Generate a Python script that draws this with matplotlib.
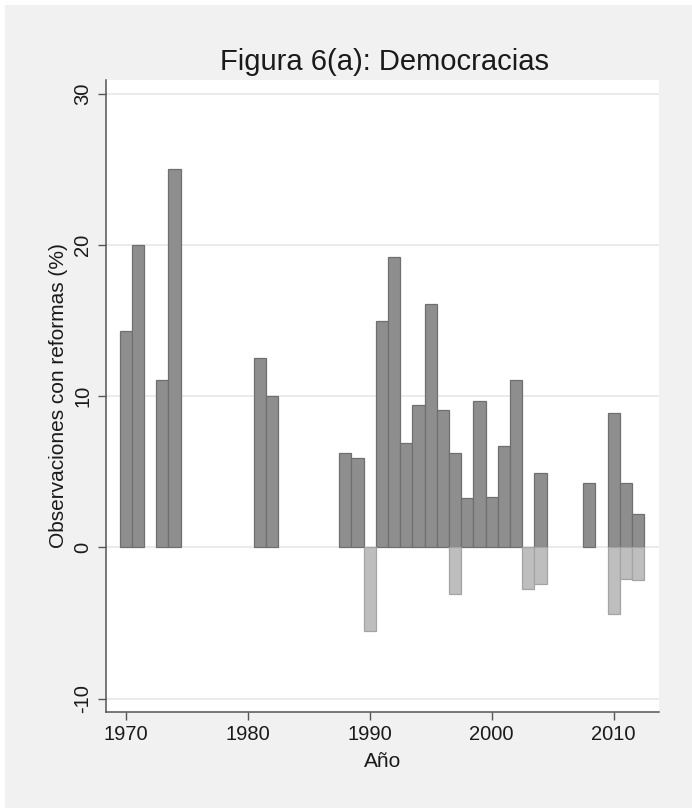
import matplotlib
matplotlib.use("Agg")
import matplotlib.pyplot as plt
from matplotlib.patches import Rectangle

plt.rcParams['font.family'] = ['Liberation Sans', 'DejaVu Sans']
plt.rcParams['axes.unicode_minus'] = False

# Data (percent of observations with reforms)
years_pos = [1970, 1971, 1973, 1974, 1981, 1982, 1988, 1989, 1991, 1992, 1993,
             1994, 1995, 1996, 1997, 1998, 1999, 2000, 2001, 2002, 2004, 2008,
             2010, 2011, 2012]
values_pos = [14.3, 20.0, 11.1, 25.0, 12.5, 10.0, 6.25, 5.9, 15.0, 19.2, 6.9,
              9.4, 16.1, 9.1, 6.25, 3.25, 9.7, 3.35, 6.7, 11.1, 4.9, 4.25,
              8.9, 4.25, 2.2]
years_neg = [1990, 1997, 2003, 2004, 2010, 2011, 2012]
values_neg = [-5.5, -3.1, -2.75, -2.4, -4.4, -2.1, -2.15]

xticks = [1970, 1980, 1990, 2000, 2010]
yticks = [-10, 0, 10, 20, 30]

W, H = 692, 808
fig = plt.figure(figsize=(W / 100, H / 100), dpi=100, facecolor='white')
fig.patches.append(Rectangle((5 / W, 0), 1, 1 - 5 / H, transform=fig.transFigure,
                             facecolor='#f1f1f1', edgecolor='none', zorder=-10))

ax = fig.add_axes([106 / W, 1 - 712 / H, (659 - 106) / W, (712 - 80) / H])
ax.set_facecolor('white')

ax.bar(years_pos, values_pos, width=1.0, color='#8e8e8e', edgecolor='#6f6f6f',
       linewidth=0.9, zorder=3)
ax.bar(years_neg, values_neg, width=1.0, color='#bebebe', edgecolor='#a4a4a4',
       linewidth=0.9, zorder=3)

ax.set_xlim(1968.39, 2013.72)
ax.set_ylim(-10.88, 30.9)

ax.set_yticks(yticks)
ax.set_xticks(xticks)
ax.yaxis.grid(True, color='#e8e8e8', linewidth=1.2, zorder=0)
ax.set_axisbelow(True)

for s in ['top', 'right']:
    ax.spines[s].set_visible(False)
for s in ['left', 'bottom']:
    ax.spines[s].set_color('#555555')
    ax.spines[s].set_linewidth(1.1)

ax.tick_params(axis='both', colors='#555555', width=1.0, length=6,
               labelsize=14.5, labelcolor='#1a1a1a', direction='out')
ax.tick_params(axis='x', pad=3)
ax.tick_params(axis='y', pad=4)
for lab in ax.get_yticklabels():
    lab.set_rotation(90)
    lab.set_va('center')

ax.set_xlabel('Año', fontsize=15, color='#1a1a1a', labelpad=6)
ax.set_ylabel('Observaciones con reformas (%)', fontsize=15, color='#1a1a1a', labelpad=4)
fig.text(385 / W, 1 - 62 / H, 'Figura 6(a): Democracias', ha='center', va='center',
         fontsize=21, color='#1a1a1a')

fig.savefig('out.png', dpi=100, facecolor=fig.get_facecolor())
